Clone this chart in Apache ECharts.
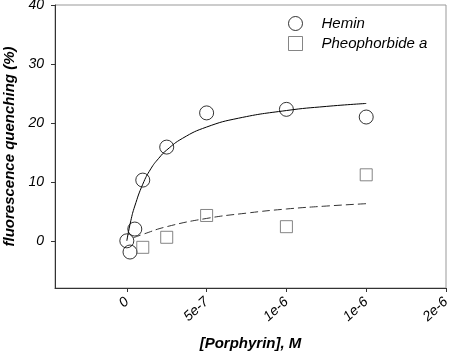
<!DOCTYPE html>
<html>
<head>
<meta charset="utf-8">
<script src="https://cdn.jsdelivr.net/npm/echarts@6/dist/echarts.min.js"></script>
<style>
html, body { margin: 0; padding: 0; background: #fff; }
#main { width: 450px; height: 354px; }
</style>
</head>
<body>
<div id="main"></div>
<script>
// measured points
var heminX = [0, 2e-8, 5e-8, 1e-7, 2.5e-7, 5e-7, 1e-6, 1.5e-6];
var heminY = [0, -1.9, 2.0, 10.3, 15.9, 21.7, 22.3, 21.0];
var pheoX = [1e-7, 2.5e-7, 5e-7, 1e-6, 1.5e-6];
var pheoY = [-1.1, 0.6, 4.3, 2.4, 11.2];
// fitted curves
var heminFitX = [0, 2.5e-8, 5e-8, 1e-7, 1.5e-7, 2e-7, 2.5e-7, 3.5e-7, 5e-7, 7e-7, 1e-6, 1.25e-6, 1.5e-6];
var heminFitY = [0, 3.4, 5.9, 9.6, 12.2, 14.0, 15.4, 17.4, 19.3, 20.8, 22.1, 22.8, 23.3];
var pheoFitX = [4e-8, 1e-7, 2.5e-7, 5e-7, 7.5e-7, 1e-6, 1.25e-6, 1.5e-6];
var pheoFitY = [0.5, 1.1, 2.4, 3.8, 4.7, 5.4, 5.9, 6.3];
// axis ticks
var xTicks = [0, 5e-7, 1e-6, 1.5e-6, 2e-6];
var xTickLabels = ["0", "5e-7", "1e-6", "1e-6", "2e-6"];
var yTicks = [0, 10, 20, 30, 40];

function pairs(xs, ys) {
  var out = [];
  for (var i = 0; i < xs.length; i++) {
    out.push([xs[i], ys[i]]);
  }
  return out;
}

var myChart = echarts.init(document.getElementById("main"));
var fontFam = "Liberation Sans, Arial, sans-serif";
myChart.setOption({
  animation: false,
  grid: {
    left: 55,
    right: 4,
    top: 5,
    bottom: 66,
    outerBoundsMode: "none",
    containLabel: false,
    show: true,
    borderColor: "#999",
    borderWidth: 1
  },
  legend: {
    orient: "vertical",
    left: 283,
    top: 11,
    itemGap: 5,
    itemWidth: 14,
    itemHeight: 14,
    textStyle: { fontFamily: fontFam, fontStyle: "italic", fontSize: 15, color: "#000", padding: [0, 0, 0, 14] },
    data: [
      { name: "Hemin", icon: "circle", itemStyle: { color: "transparent", borderColor: "#000", borderWidth: 1 } },
      { name: "Pheophorbide a", icon: "rect", itemStyle: { color: "transparent", borderColor: "#666", borderWidth: 1 } }
    ]
  },
  xAxis: {
    type: "value",
    min: -4.5e-7,
    max: 2e-6,
    name: "[Porphyrin], M",
    nameLocation: "middle",
    nameGap: 48,
    nameTextStyle: { fontFamily: fontFam, fontStyle: "italic", fontWeight: "bold", fontSize: 15, color: "#000" },
    splitLine: { show: false },
    axisLine: { show: true, onZero: false, lineStyle: { color: "#333", width: 1 } },
    axisTick: { show: true, length: 4, customValues: xTicks, lineStyle: { color: "#333" } },
    axisLabel: {
      customValues: xTicks,
      rotate: 42,
      margin: 12,
      fontFamily: fontFam,
      fontStyle: "italic",
      fontSize: 14,
      color: "#000",
      formatter: function (v) {
        return xTickLabels[Math.round(v / 5e-7)];
      }
    }
  },
  yAxis: {
    type: "value",
    min: -8,
    max: 40,
    name: "fluorescence quenching (%)",
    nameLocation: "middle",
    nameGap: 38,
    nameTextStyle: { fontFamily: fontFam, fontStyle: "italic", fontWeight: "bold", fontSize: 15, color: "#000" },
    splitLine: { show: false },
    axisLine: { show: true, onZero: false, lineStyle: { color: "#333", width: 1 } },
    axisTick: { show: true, length: 4, customValues: yTicks, lineStyle: { color: "#333" } },
    axisLabel: {
      customValues: yTicks,
      margin: 11,
      fontFamily: fontFam,
      fontStyle: "italic",
      fontSize: 14,
      color: "#000"
    }
  },
  series: [
    {
      name: "Hemin fit",
      type: "line",
      data: pairs(heminFitX, heminFitY),
      smooth: true,
      showSymbol: false,
      lineStyle: { color: "#000", width: 1 },
      silent: true
    },
    {
      name: "Pheophorbide fit",
      type: "line",
      data: pairs(pheoFitX, pheoFitY),
      smooth: true,
      showSymbol: false,
      lineStyle: { color: "#333", width: 1, type: [8, 4] },
      silent: true
    },
    {
      name: "Hemin",
      type: "scatter",
      data: pairs(heminX, heminY),
      symbol: "circle",
      symbolSize: 14,
      itemStyle: { color: "transparent", borderColor: "#000", borderWidth: 1 }
    },
    {
      name: "Pheophorbide a",
      type: "scatter",
      data: pairs(pheoX, pheoY),
      symbol: "rect",
      symbolSize: 12,
      itemStyle: { color: "transparent", borderColor: "#666", borderWidth: 1 }
    }
  ]
});
</script>
</body>
</html>
